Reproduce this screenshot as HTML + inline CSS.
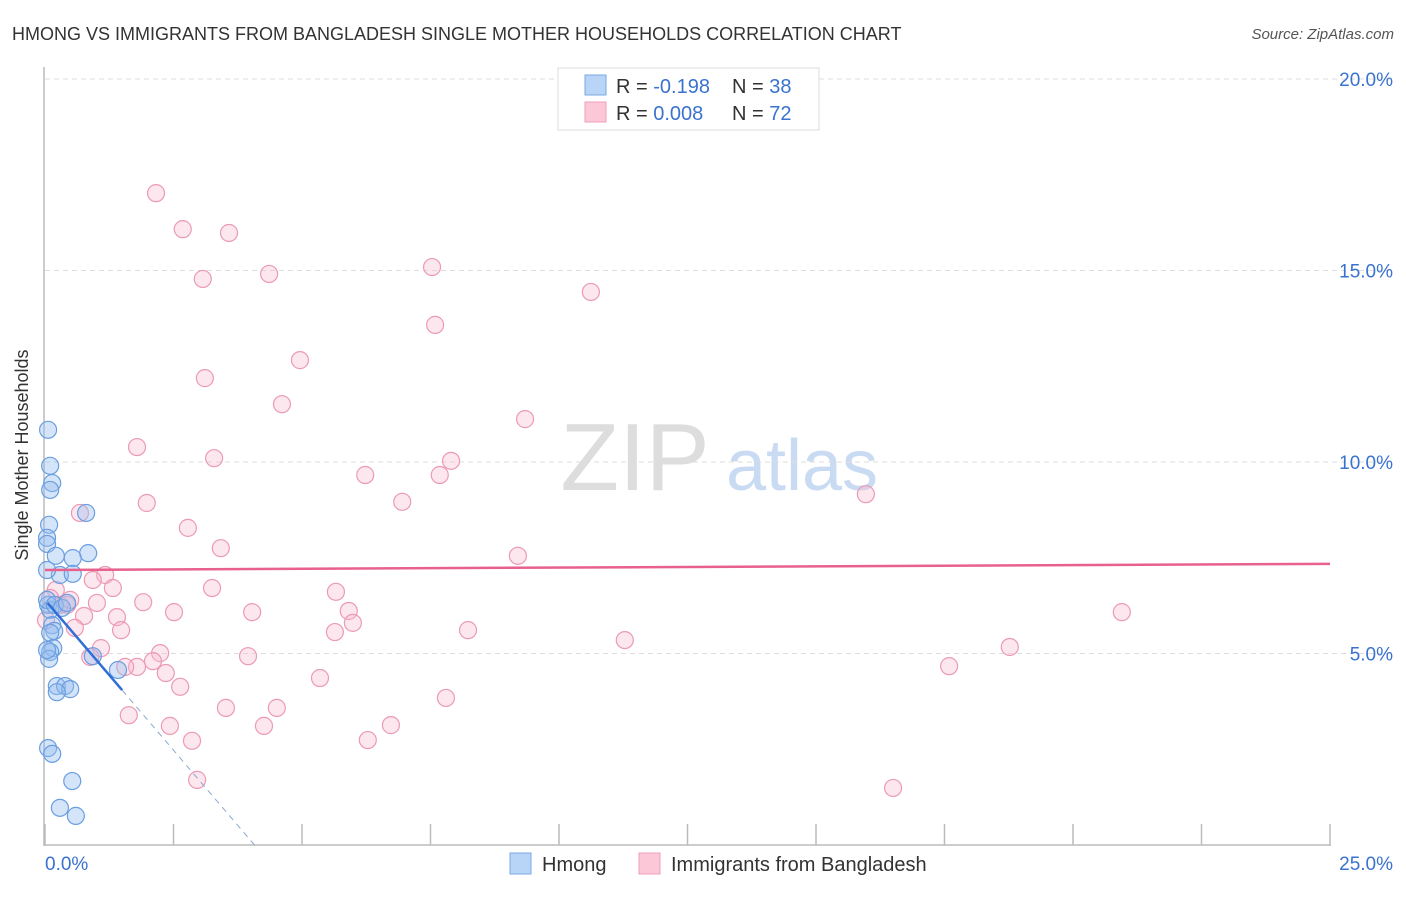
<!DOCTYPE html>
<html><head><meta charset="utf-8"><style>
body{margin:0;background:#fff;font-family:"Liberation Sans",sans-serif;}
svg text{font-family:"Liberation Sans",sans-serif;}
</style></head><body>
<svg id="chart" width="1406" height="892" xmlns="http://www.w3.org/2000/svg">
<text x="12" y="40" font-size="18" fill="#333">HMONG VS IMMIGRANTS FROM BANGLADESH SINGLE MOTHER HOUSEHOLDS CORRELATION CHART</text>
<text x="1394" y="39" font-size="15" fill="#555" font-style="italic" text-anchor="end">Source: ZipAtlas.com</text>
<g>
<text x="635" y="490" font-size="96" font-family="Liberation Serif, serif" fill="#ddd" text-anchor="middle">ZIP</text>
<text x="802" y="490" font-size="72" fill="#c9dbf3" text-anchor="middle">atlas</text>
</g>
<g id="grid"></g>
<g id="axes"></g>
<g id="marks"></g>
<g>
<rect x="558" y="68" width="261" height="62" fill="#fff" stroke="#ddd"/>
<rect x="585" y="75" width="21" height="20" fill="#b8d4f7" stroke="#7aa8e6"/>
<rect x="585" y="102" width="21" height="20" fill="#fcc8d8" stroke="#ee9fb8"/>
<text x="616" y="93" font-size="20" fill="#333">R = <tspan fill="#3a72d0">-0.198</tspan><tspan x="732">N = </tspan><tspan fill="#3a72d0">38</tspan></text>
<text x="616" y="120" font-size="20" fill="#333">R = <tspan fill="#3a72d0">0.008</tspan><tspan x="732">N = </tspan><tspan fill="#3a72d0">72</tspan></text>
</g>
<g>
<rect x="510" y="853" width="21" height="21" fill="#b8d4f7" stroke="#7aa8e6"/>
<text x="542" y="871" font-size="20" fill="#333">Hmong</text>
<rect x="639" y="853" width="21" height="21" fill="#fcc8d8" stroke="#ee9fb8"/>
<text x="671" y="871" font-size="20" fill="#333">Immigrants from Bangladesh</text>
</g>
<text x="28" y="455" font-size="18" fill="#333" text-anchor="middle" transform="rotate(-90 28 455)">Single Mother Households</text>
</svg>
<script>
const yTicks=[5,10,15,20];
const yTickLabels=["5.0%","10.0%","15.0%","20.0%"];
const xTicks=[0,2.5,5,7.5,10,12.5,15,17.5,20,22.5,25];
const hmongX=[0.06,0.10,0.14,0.10,0.08,0.04,0.04,0.80,0.84,0.54,0.21,0.29,0.54,0.04,0.06,0.10,0.14,0.18,0.10,0.16,0.10,0.08,0.93,1.42,0.23,0.39,0.49,0.23,0.06,0.14,0.53,0.29,0.60,0.04,0.19,0.33,0.43,0.04];
const hmongY=[10.84,9.90,9.45,9.27,8.36,8.02,7.86,8.67,7.62,7.49,7.55,7.05,7.08,7.18,6.27,6.14,5.74,5.59,5.54,5.14,5.04,4.86,4.93,4.57,4.15,4.15,4.07,3.99,2.53,2.38,1.67,0.97,0.76,6.40,6.27,6.19,6.32,5.09];
const bangX=[2.16,2.68,3.58,3.07,4.36,7.53,10.62,7.59,4.96,3.11,4.61,9.34,1.79,3.29,7.90,6.23,7.68,1.98,6.95,15.97,0.68,2.78,3.42,9.20,1.17,0.93,1.32,3.25,5.66,0.29,1.01,1.91,0.43,1.40,0.76,2.51,4.03,5.91,20.95,5.99,1.48,0.58,5.64,8.23,11.28,1.09,2.24,0.88,3.95,2.10,1.79,1.56,18.77,17.59,2.35,5.35,2.63,7.80,3.52,4.51,1.63,2.43,4.26,6.73,2.86,6.28,2.96,16.50,0.21,0.10,0.49,0.02];
const bangY=[17.02,16.08,15.98,14.78,14.91,15.09,14.44,13.58,12.66,12.19,11.51,11.12,10.39,10.10,10.03,9.66,9.66,8.93,8.96,9.16,8.67,8.28,7.75,7.55,7.05,6.92,6.71,6.71,6.61,6.27,6.32,6.34,6.27,5.95,5.98,6.08,6.08,6.11,6.08,5.80,5.61,5.67,5.56,5.61,5.35,5.14,5.01,4.91,4.93,4.80,4.65,4.65,5.17,4.67,4.49,4.36,4.13,3.84,3.58,3.58,3.39,3.11,3.11,3.13,2.72,2.74,1.70,1.49,6.66,6.45,6.40,5.87];
const hmongTrend=[6.4,-1.57];
const bangTrend=[7.18,0.0064];
const NS="http://www.w3.org/2000/svg";
const sx=v=>45+v*51.4;
const sy=v=>845-v*38.3;
function mk(tag,attrs,parent){const e=document.createElementNS(NS,tag);for(const k in attrs)e.setAttribute(k,attrs[k]);parent.appendChild(e);return e;}
const grid=document.getElementById('grid'),axes=document.getElementById('axes'),marks=document.getElementById('marks');
yTicks.forEach((t,i)=>{
 const l=mk('line',{x1:45,x2:1393,y1:sy(t),y2:sy(t),stroke:'#ddd','stroke-dasharray':'5,4'},grid);
 
 
 const tx=mk('text',{x:1393,y:sy(t)+7,'font-size':19,fill:'#3a72d0','text-anchor':'end'},axes);
 tx.textContent=yTickLabels[i];
 
 
});
const ya=mk('line',{x1:44,x2:44,y1:67,y2:846,stroke:'#bbb','stroke-width':1.5},axes);


const xa=mk('line',{x1:44,x2:1331,y1:845,y2:845,stroke:'#bbb','stroke-width':1.5},axes);


xTicks.forEach(t=>{
 const l=mk('line',{x1:sx(t),x2:sx(t),y1:824,y2:845,stroke:'#bbb','stroke-width':1.5},axes);
 
 
});
const x0=mk('text',{x:45,y:870,'font-size':19,fill:'#3a72d0'},axes);x0.textContent='0.0%';


const x1=mk('text',{x:1393,y:870,'font-size':19,fill:'#3a72d0','text-anchor':'end'},axes);x1.textContent='25.0%';


bangX.forEach((x,i)=>{
 const c=mk('circle',{cx:sx(x),cy:sy(bangY[i]),r:8.5,fill:'rgba(248,185,205,0.35)',stroke:'#eb9ab4','stroke-width':1.2},marks);
 
 
});
hmongX.forEach((x,i)=>{
 const c=mk('circle',{cx:sx(x),cy:sy(hmongY[i]),r:8.5,fill:'rgba(150,190,240,0.4)',stroke:'#6a9ee0','stroke-width':1.2},marks);
 
 
});
const hy=x=>hmongTrend[0]+hmongTrend[1]*x;
const by=x=>bangTrend[0]+bangTrend[1]*x;
const bl=mk('line',{x1:sx(0),x2:sx(25),y1:sy(by(0)),y2:sy(by(25)),stroke:'#e8608c','stroke-width':2.5},marks);


const hs=mk('line',{x1:sx(0.05),x2:sx(1.5),y1:sy(hy(0.05)),y2:sy(hy(1.5)),stroke:'#2f6fd6','stroke-width':2.5},marks);


const xe=-hmongTrend[0]/hmongTrend[1];
const hd=mk('line',{x1:sx(1.5),x2:sx(xe),y1:sy(hy(1.5)),y2:sy(0),stroke:'#8aa8d0','stroke-width':1,'stroke-dasharray':'6,5'},marks);


</script>
</body></html>
